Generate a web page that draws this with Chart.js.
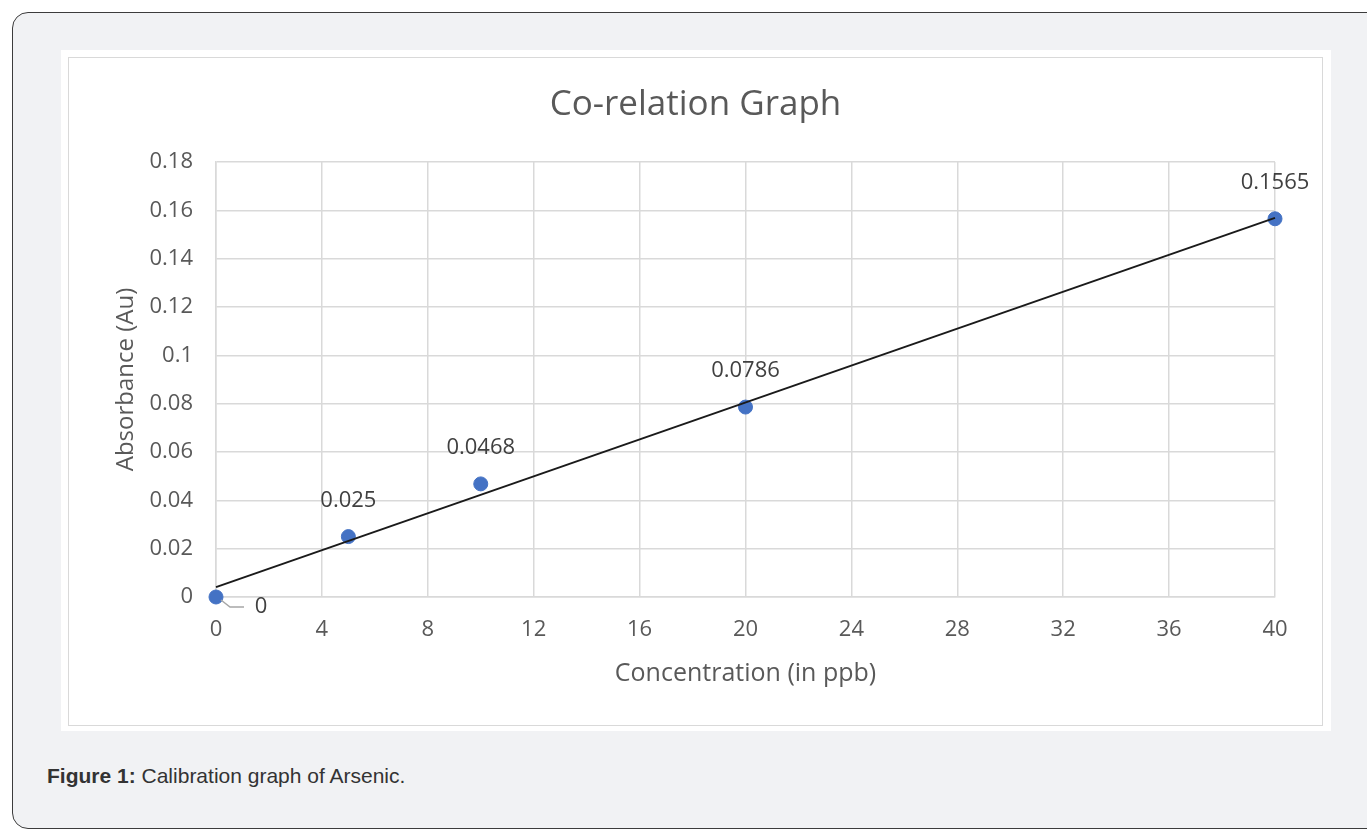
<!DOCTYPE html>
<html>
<head>
<meta charset="utf-8">
<script src="https://cdn.jsdelivr.net/npm/chart.js@4.4.1/dist/chart.umd.min.js"></script>
<style>
  html, body { margin: 0; padding: 0; background: #ffffff; overflow: hidden; }
  body { width: 1367px; height: 829px; position: relative; }
  .frame {
    position: absolute; left: 12px; top: 12px; width: 1420px; height: 815px;
    background: #f1f2f4; border: 1px solid #3c3c3c; border-radius: 16px;
  }
  .panel {
    position: absolute; left: 61px; top: 50px; width: 1270px; height: 681px;
    background: #ffffff;
  }
  .inner {
    position: absolute; left: 68px; top: 57px; width: 1253px; height: 667px;
    border: 1.5px solid #d9d9d9;
  }
  .plot { position: absolute; left: 68px; top: 57px; width: 1255px; height: 669px; }
  .caption {
    position: absolute; left: 47px; top: 764px; line-height: 24px;
    font-family: "Liberation Sans", Arial, sans-serif; font-size: 21px; color: #333333;
  }
</style>
</head>
<body>
<div class="frame"></div>
<div class="panel"></div>
<div class="inner"></div>
<div class="plot"><canvas id="chart_corelation"></canvas></div>
<div class="caption"><b>Figure 1:</b> Calibration graph of Arsenic.</div>
<script>
// measured points
var concentration = [0, 5, 10, 20, 40];
var absorbance = [0, 0.025, 0.0468, 0.0786, 0.1565];
// linear trendline as drawn, read at both ends
var trendX = [0, 40];
var trendY = [0.0041, 0.1569];
var yTickLabels = ['0', '0.02', '0.04', '0.06', '0.08', '0.1', '0.12', '0.14', '0.16', '0.18'];

Chart.defaults.font.family = "'Open Sans', sans-serif";

var tickFont = { size: 22 };
var gray = '#595959';
var gridGray = '#d9d9d9';

var chart_corelation = new Chart(document.getElementById('chart_corelation'), {
    type: 'scatter',
    data: {
        datasets: [
            {
                label: 'Linear (Absorbance)',
                type: 'line',
                data: trendX.map(function (x, i) { return { x: x, y: trendY[i] }; }),
                borderColor: '#1a1a1a',
                borderWidth: 2,
                pointRadius: 0,
                fill: false,
                clip: false
            },
            {
                label: 'Absorbance',
                data: concentration.map(function (x, i) { return { x: x, y: absorbance[i] }; }),
                backgroundColor: '#4472c4',
                borderColor: '#4472c4',
                pointRadius: 7,
                pointHoverRadius: 7,
                clip: false
            }
        ]
    },
    options: {
        animation: false,
        responsive: true,
        maintainAspectRatio: false,
        events: [],
        layout: { padding: 0 },
        plugins: {
            legend: { display: false },
            tooltip: { enabled: false },
            title: {
                display: true,
                text: 'Co-relation Graph',
                color: gray,
                font: { size: 35, weight: 'normal' },
                padding: { top: 27, bottom: 36 }
            }
        },
        scales: {
            x: {
                type: 'linear',
                min: 0,
                max: 40,
                ticks: { stepSize: 4, color: gray, font: tickFont, padding: 20, maxRotation: 0 },
                grid: { color: gridGray, lineWidth: 1.5, drawTicks: false },
                border: { color: gridGray, width: 1.5 },
                title: {
                    display: true,
                    text: 'Concentration (in ppb)',
                    color: gray,
                    font: { size: 25 },
                    padding: { top: 0, bottom: 37 }
                },
                afterFit: function (scale) {
                    scale.height = 129;
                    scale.paddingLeft = 0;
                    scale.paddingRight = 48;
                }
            },
            y: {
                min: 0,
                max: 0.18,
                ticks: {
                    stepSize: 0.02, color: gray, font: tickFont, padding: 23,
                    callback: function (value, index) { return yTickLabels[index]; }
                },
                grid: { color: gridGray, lineWidth: 1.5, drawTicks: false },
                border: { color: gridGray, width: 1.5 },
                title: {
                    display: true,
                    text: 'Absorbance (Au)',
                    color: gray,
                    font: { size: 24 },
                    padding: { top: 44, bottom: 0 }
                },
                afterFit: function (scale) {
                    scale.width = 148;
                }
            }
        }
    },
    plugins: [{
        id: 'pointLabels',
        afterDatasetsDraw: function (chart) {
            var ctx = chart.ctx;
            var meta = chart.getDatasetMeta(1);
            ctx.save();
            ctx.font = "22px 'Open Sans', sans-serif";
            ctx.fillStyle = '#404040';
            ctx.textAlign = 'center';
            ctx.textBaseline = 'middle';
            meta.data.forEach(function (pt, i) {
                var txt = String(absorbance[i]);
                if (absorbance[i] === 0) {
                    // label pushed below-right with a leader line
                    ctx.strokeStyle = '#a6a6a6';
                    ctx.lineWidth = 1.5;
                    ctx.beginPath();
                    ctx.moveTo(pt.x + 5, pt.y + 3);
                    ctx.lineTo(pt.x + 14, pt.y + 10);
                    ctx.lineTo(pt.x + 28, pt.y + 10);
                    ctx.stroke();
                    ctx.fillText(txt, pt.x + 45, pt.y + 10);
                } else {
                    ctx.fillText(txt, pt.x, pt.y - 36);
                }
            });
            ctx.restore();
        }
    }]
});
</script>
</body>
</html>
